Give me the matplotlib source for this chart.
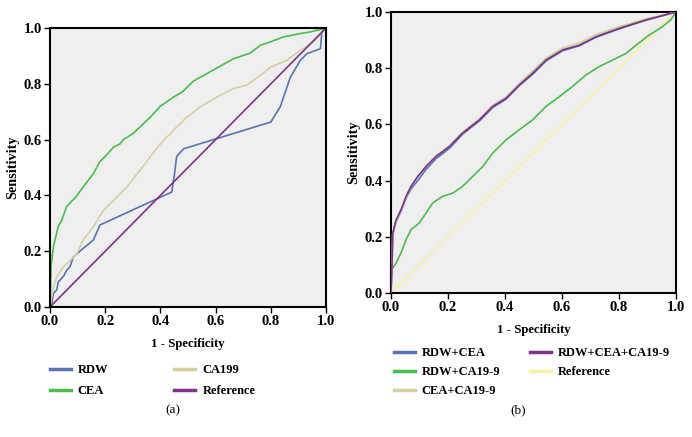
import numpy as np
import matplotlib
matplotlib.use('Agg')
import matplotlib.pyplot as plt

plt.rcParams['font.family'] = ['Liberation Serif', 'DejaVu Serif']

# ---- panel (a) curves ----
rdw_x = [0, 0.006, 0.012, 0.024, 0.03, 0.048, 0.06, 0.072, 0.085, 0.12, 0.157, 0.181,
         0.441, 0.45, 0.459, 0.484, 0.8, 0.834, 0.871, 0.907, 0.931, 0.98, 0.985, 1.0]
rdw_y = [0, 0.007, 0.048, 0.061, 0.09, 0.109, 0.131, 0.144, 0.18, 0.21, 0.24, 0.294,
         0.412, 0.47, 0.54, 0.567, 0.663, 0.717, 0.824, 0.884, 0.908, 0.926, 0.986, 1.0]

cea_x = [0, 0.004, 0.012, 0.03, 0.042, 0.06, 0.079, 0.09, 0.12, 0.157, 0.18, 0.2, 0.23,
         0.254, 0.266, 0.3, 0.363, 0.4, 0.447, 0.478, 0.52, 0.6, 0.665, 0.725, 0.762,
         0.8, 0.846, 0.907, 0.943, 1.0]
cea_y = [0, 0.15, 0.215, 0.29, 0.31, 0.36, 0.38, 0.39, 0.43, 0.478, 0.52, 0.54, 0.573,
         0.585, 0.6, 0.621, 0.68, 0.72, 0.752, 0.77, 0.81, 0.854, 0.89, 0.91, 0.938,
         0.951, 0.968, 0.98, 0.986, 1.0]

ca199_x = [0, 0.012, 0.024, 0.048, 0.073, 0.097, 0.12, 0.157, 0.193, 0.23, 0.278, 0.326,
           0.363, 0.4, 0.447, 0.496, 0.544, 0.605, 0.665, 0.713, 0.762, 0.8, 0.858,
           0.907, 0.955, 1.0]
ca199_y = [0, 0.072, 0.107, 0.143, 0.167, 0.19, 0.24, 0.287, 0.346, 0.382, 0.43, 0.49,
           0.538, 0.585, 0.633, 0.681, 0.717, 0.753, 0.783, 0.795, 0.83, 0.86, 0.884,
           0.92, 0.95, 1.0]

ref_x = [0, 1]
ref_y = [0, 1]

# ---- panel (b) curves ----
comb3_x = [0, 0.004, 0.006, 0.018, 0.035, 0.053, 0.07, 0.094, 0.123, 0.158, 0.205, 0.251,
           0.31, 0.357, 0.404, 0.45, 0.497, 0.544, 0.602, 0.661, 0.719, 0.801, 0.895, 1.0]
comb3_y = [0, 0.118, 0.213, 0.26, 0.296, 0.344, 0.379, 0.415, 0.45, 0.486, 0.521, 0.569,
           0.616, 0.664, 0.693, 0.74, 0.782, 0.829, 0.865, 0.882, 0.912, 0.942, 0.972, 1.0]

rdw_cea_x = [0, 0.004, 0.006, 0.018, 0.035, 0.053, 0.07, 0.094, 0.123, 0.158, 0.205, 0.251,
             0.31, 0.357, 0.404, 0.45, 0.497, 0.544, 0.602, 0.661, 0.719, 0.801, 0.895, 1.0]
rdw_cea_y = [0, 0.11, 0.205, 0.255, 0.29, 0.338, 0.37, 0.4, 0.44, 0.478, 0.515, 0.565,
             0.612, 0.66, 0.69, 0.738, 0.778, 0.826, 0.862, 0.88, 0.91, 0.94, 0.971, 1.0]

cea_ca_x = [0, 0.004, 0.006, 0.018, 0.035, 0.053, 0.07, 0.094, 0.123, 0.158, 0.205, 0.251,
            0.31, 0.357, 0.404, 0.45, 0.497, 0.544, 0.602, 0.661, 0.719, 0.801, 0.895, 1.0]
cea_ca_y = [0, 0.115, 0.21, 0.258, 0.293, 0.342, 0.378, 0.413, 0.452, 0.488, 0.525, 0.572,
            0.62, 0.668, 0.698, 0.746, 0.79, 0.836, 0.872, 0.89, 0.92, 0.948, 0.976, 1.0]

rdw_ca_x = [0, 0.002, 0.018, 0.035, 0.053, 0.07, 0.099, 0.123, 0.146, 0.181, 0.216, 0.251,
            0.287, 0.322, 0.357, 0.404, 0.45, 0.497, 0.544, 0.591, 0.637, 0.684, 0.731,
            0.778, 0.825, 0.86, 0.906, 0.953, 0.982, 1.0]
rdw_ca_y = [0, 0.083, 0.107, 0.142, 0.19, 0.225, 0.249, 0.284, 0.32, 0.344, 0.355, 0.379,
            0.415, 0.45, 0.498, 0.545, 0.581, 0.616, 0.664, 0.699, 0.735, 0.776, 0.806,
            0.829, 0.853, 0.882, 0.918, 0.948, 0.972, 1.0]

ticks = [0.0, 0.2, 0.4, 0.6, 0.8, 1.0]
tick_labels = ['0.0', '0.2', '0.4', '0.6', '0.8', '1.0']

blue = '#5a72b6'
green = '#4cbc4c'
tan = '#d5d0a2'
purple = '#7d3488'
yellow = '#f6f2a2'


def style_axes(ax):
    ax.set_facecolor('#efefef')
    ax.set_xlim(0, 1)
    ax.set_ylim(0, 1)
    ax.set_xticks(ticks)
    ax.set_yticks(ticks)
    ax.set_xticklabels(tick_labels, fontweight='bold', fontsize=10.5)
    ax.set_yticklabels(tick_labels, fontweight='bold', fontsize=10.5)
    ax.tick_params(direction='out', length=4, width=1, pad=2)
    for s in ax.spines.values():
        s.set_linewidth(1.5)
    ax.set_xlabel('1 - Specificity', fontweight='bold', fontsize=9.2, labelpad=7)
    ax.set_ylabel('Sensitivity', fontweight='bold', fontsize=10.2, labelpad=3)


fig = plt.figure(figsize=(6.92, 4.37), dpi=100)
ax1 = fig.add_axes([0.0723, 0.2975, 0.3988, 0.6384])
ax2 = fig.add_axes([0.565, 0.3295, 0.4118, 0.643])

lw = 1.2
ax1.plot(rdw_x, rdw_y, color=blue, lw=lw, label='RDW')
ax1.plot(cea_x, cea_y, color=green, lw=lw, label='CEA')
ax1.plot(ca199_x, ca199_y, color=tan, lw=lw, label='CA199')
ax1.plot(ref_x, ref_y, color=purple, lw=lw, label='Reference')
style_axes(ax1)

ax2.plot(ref_x, ref_y, color=yellow, lw=lw, label='Reference', zorder=1)
ax2.plot(rdw_ca_x, rdw_ca_y, color=green, lw=lw, label='RDW+CA19-9', zorder=2)
ax2.plot(rdw_cea_x, rdw_cea_y, color=blue, lw=lw, label='RDW+CEA', zorder=3)
ax2.plot(cea_ca_x, cea_ca_y, color=tan, lw=lw, label='CEA+CA19-9', zorder=3)
ax2.plot(comb3_x, comb3_y, color=purple, lw=lw, label='RDW+CEA+CA19-9', zorder=4)
style_axes(ax2)

legfont = {'weight': 'bold', 'size': 9}

h1, l1 = ax1.get_legend_handles_labels()
leg1 = fig.legend(h1, l1, loc='upper left', bbox_to_anchor=(0.072, 0.167), ncol=2,
                  frameon=False, borderpad=0, borderaxespad=0, handlelength=1.67,
                  handletextpad=0.56, labelspacing=0.75, columnspacing=5.3,
                  prop=legfont)
for ln in leg1.get_lines():
    ln.set_linewidth(2.5)

h2, l2 = ax2.get_legend_handles_labels()
order = ['RDW+CEA', 'RDW+CA19-9', 'CEA+CA19-9', 'RDW+CEA+CA19-9', 'Reference']
hh = [h2[l2.index(n)] for n in order]
leg2 = fig.legend(hh, order, loc='upper left', bbox_to_anchor=(0.569, 0.206), ncol=2,
                  frameon=False, borderpad=0, borderaxespad=0, handlelength=1.67,
                  handletextpad=0.56, labelspacing=0.58, columnspacing=2.4,
                  prop=legfont)
for ln in leg2.get_lines():
    ln.set_linewidth(2.5)

fig.text(0.25, 0.062, '(a)', ha='center', va='center', fontsize=9.5)
fig.text(0.749, 0.062, '(b)', ha='center', va='center', fontsize=9.5)

fig.savefig('out.png', dpi=100)
